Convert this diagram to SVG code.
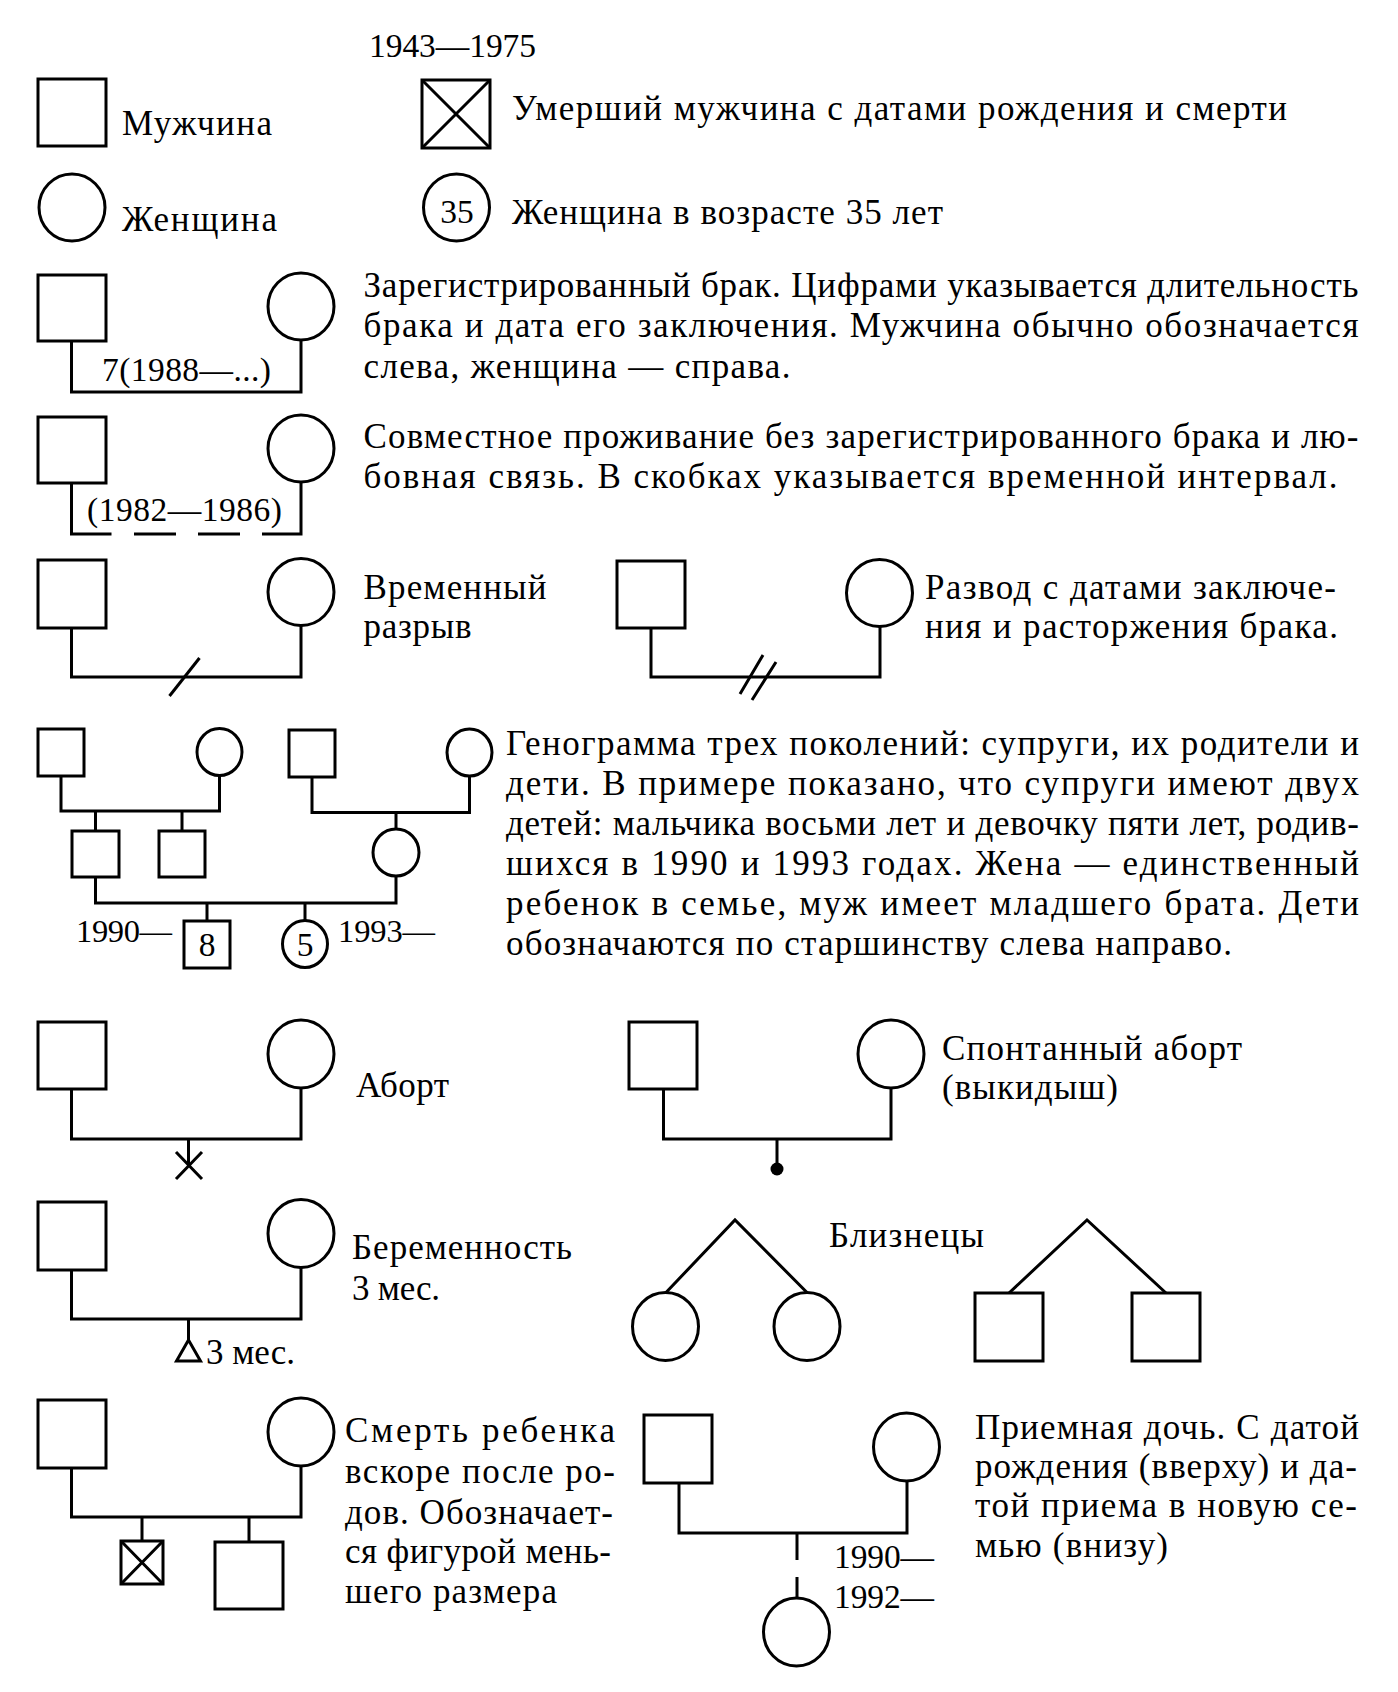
<svg xmlns="http://www.w3.org/2000/svg" width="1398" height="1692" viewBox="0 0 1398 1692">
<style>
.n{fill:#fff;stroke:#000;stroke-width:3}
.c{fill:none;stroke:#000;stroke-width:3}
.t{font-family:"Liberation Serif","Times New Roman",serif;font-size:35px;fill:#000}
.d{font-family:"Liberation Serif","Times New Roman",serif;font-size:33.5px;fill:#000}
.s{font-size:32.5px}
.m{text-anchor:middle}
</style>
<rect width="1398" height="1692" fill="#fff"/>

<g id="connectors">
  <path class="c" d="M71.5 341V392H301V340"/>
  <path class="c" d="M71.5 483V534H111.5M134 534H176M198 534H240M262 534H301V482"/>
  <path class="c" d="M71.5 628V677H301V626"/>
  <path class="c" d="M199.5 658L169.5 696"/>
  <path class="c" d="M651 628V677H880V627"/>
  <path class="c" d="M763 655L740 694M776 662L752 700"/>
  <path class="c" d="M61 776V811H219.5V775.5M95.5 811V831M182 811V831"/>
  <path class="c" d="M312 777V812.5H469.5V776M396 812.5V829"/>
  <path class="c" d="M95.5 877V903H396V876M207 903V921M305 903V920.5"/>
  <path class="c" d="M71.5 1089V1139H301V1088M188.5 1139V1165.5"/>
  <path class="c" d="M176 1152L202 1179M202 1152L176 1179"/>
  <path class="c" d="M663.5 1089V1139H891V1088M777 1139V1165"/>
  <path class="c" d="M71.5 1270V1319H301V1267.5M188.5 1319V1340"/>
  <path class="c" d="M666 1292.5L735 1220L807 1292.5"/>
  <path class="c" d="M1009 1293L1087 1220L1166 1293"/>
  <path class="c" d="M71.5 1468V1517H301V1466M142 1517V1541M249 1517V1542"/>
  <path class="c" d="M679 1483V1533H907V1481M797 1533V1560M797 1577V1598"/>
</g>

<g id="legend-male"><rect class="n" x="38" y="79" width="68" height="67"/><text class="t" x="122" y="134.5" textLength="150" lengthAdjust="spacing">Мужчина</text></g>
<g id="legend-deceased"><rect class="n" x="422" y="80" width="68" height="68"/><path class="c" d="M422 80L490 148M490 80L422 148"/><text class="d" x="369" y="57" textLength="167" lengthAdjust="spacing">1943—1975</text><text class="t" x="512" y="119.5" textLength="775" lengthAdjust="spacing">Умерший мужчина с датами рождения и смерти</text></g>
<g id="legend-female"><ellipse class="n" cx="72" cy="207.5" rx="33" ry="33.5"/><text class="t" x="122" y="230.5" textLength="155" lengthAdjust="spacing">Женщина</text></g>
<g id="legend-female35"><ellipse class="n" cx="456.5" cy="207.5" rx="33" ry="33.5"/><text class="d m" x="457" y="222.5">35</text><text class="t" x="512" y="223.5" textLength="431" lengthAdjust="spacing">Женщина в возрасте 35 лет</text></g>

<g id="marriage">
  <rect class="n" x="38" y="275" width="68" height="66"/>
  <ellipse class="n" cx="301" cy="306.5" rx="33" ry="33.5"/>
  <text class="d" x="102" y="381" textLength="169" lengthAdjust="spacing">7(1988—...)</text>
  <text class="t" x="363.5" y="297" textLength="995" lengthAdjust="spacing">Зарегистрированный брак. Цифрами указывается длительность</text>
  <text class="t" x="363.5" y="337" textLength="995" lengthAdjust="spacing">брака и дата его заключения. Мужчина обычно обозначается</text>
  <text class="t" x="363.5" y="377.5" textLength="427" lengthAdjust="spacing">слева, женщина — справа.</text>
</g>

<g id="cohabitation">
  <rect class="n" x="38" y="417" width="68" height="66"/>
  <ellipse class="n" cx="301" cy="448.5" rx="33" ry="33.5"/>
  <text class="d" x="87" y="520.5" textLength="195" lengthAdjust="spacing">(1982—1986)</text>
  <text class="t" x="363.5" y="448" textLength="995" lengthAdjust="spacing">Совместное проживание без зарегистрированного брака и лю-</text>
  <text class="t" x="363.5" y="487.5" textLength="974" lengthAdjust="spacing">бовная связь. В скобках указывается временной интервал.</text>
</g>

<g id="separation">
  <rect class="n" x="38" y="560" width="68" height="68"/>
  <ellipse class="n" cx="301" cy="592" rx="33" ry="33.5"/>
  <text class="t" x="363.5" y="599" textLength="183" lengthAdjust="spacing">Временный</text>
  <text class="t" x="363.5" y="638" textLength="108" lengthAdjust="spacing">разрыв</text>
</g>

<g id="divorce">
  <rect class="n" x="617" y="561" width="68" height="67"/>
  <ellipse class="n" cx="879.5" cy="593" rx="33" ry="33.5"/>
  <text class="t" x="925" y="599" textLength="411" lengthAdjust="spacing">Развод с датами заключе-</text>
  <text class="t" x="925" y="638" textLength="413" lengthAdjust="spacing">ния и расторжения брака.</text>
</g>

<g id="genogram">
  <g id="gf-left"><rect class="n" x="38" y="729" width="46" height="47"/></g>
  <g id="gm-left"><ellipse class="n" cx="219.5" cy="752" rx="22.5" ry="23.5"/></g>
  <g id="gf-right"><rect class="n" x="289" y="730" width="46" height="47"/></g>
  <g id="gm-right"><ellipse class="n" cx="469.5" cy="752.5" rx="22.5" ry="23.5"/></g>
  <g id="husband"><rect class="n" x="72" y="831" width="47" height="46"/></g>
  <g id="brother"><rect class="n" x="159" y="831" width="46" height="46"/></g>
  <g id="wife"><ellipse class="n" cx="396" cy="852.5" rx="23" ry="23.5"/></g>
  <g id="son"><rect class="n" x="184" y="921" width="46" height="47"/><text class="d m" x="207" y="956">8</text></g>
  <g id="daughter"><ellipse class="n" cx="305" cy="944" rx="22.5" ry="23.5"/><text class="d m" x="305" y="956">5</text></g>
  <text class="d s" x="76" y="942" textLength="96" lengthAdjust="spacing">1990—</text>
  <text class="d s" x="338" y="942" textLength="97" lengthAdjust="spacing">1993—</text>
  <text class="t" x="506" y="755" textLength="853" lengthAdjust="spacing">Генограмма трех поколений: супруги, их родители и</text>
  <text class="t" x="506" y="795" textLength="853" lengthAdjust="spacing">дети. В примере показано, что супруги имеют двух</text>
  <text class="t" x="506" y="835" textLength="853" lengthAdjust="spacing">детей: мальчика восьми лет и девочку пяти лет, родив-</text>
  <text class="t" x="506" y="875" textLength="853" lengthAdjust="spacing">шихся в 1990 и 1993 годах. Жена — единственный</text>
  <text class="t" x="506" y="915" textLength="853" lengthAdjust="spacing">ребенок в семье, муж имеет младшего брата. Дети</text>
  <text class="t" x="506" y="955" textLength="726" lengthAdjust="spacing">обозначаются по старшинству слева направо.</text>
</g>

<g id="abortion">
  <rect class="n" x="38" y="1022" width="68" height="67"/>
  <ellipse class="n" cx="301" cy="1054" rx="33" ry="34"/>
  <text class="t" x="356" y="1097" textLength="93" lengthAdjust="spacing">Аборт</text>
</g>

<g id="miscarriage">
  <rect class="n" x="629" y="1022" width="68" height="67"/>
  <ellipse class="n" cx="891" cy="1054" rx="33" ry="34"/>
  <circle cx="777" cy="1169" r="6.5" fill="#000"/>
  <text class="t" x="942" y="1060" textLength="300" lengthAdjust="spacing">Спонтанный аборт</text>
  <text class="t" x="942" y="1099" textLength="176" lengthAdjust="spacing">(выкидыш)</text>
</g>

<g id="pregnancy">
  <rect class="n" x="38" y="1202" width="68" height="68"/>
  <ellipse class="n" cx="301" cy="1233.5" rx="33" ry="34"/>
  <polygon class="n" points="188.5,1340 176.5,1361 200.5,1361"/>
  <text class="t" x="206" y="1364" textLength="89" lengthAdjust="spacing">3 мес.</text>
  <text class="t" x="352" y="1259" textLength="220" lengthAdjust="spacing">Беременность</text>
  <text class="t" x="352" y="1300" textLength="88" lengthAdjust="spacing">3 мес.</text>
</g>

<g id="twins">
  <ellipse class="n" cx="665.5" cy="1326.5" rx="33" ry="34"/>
  <ellipse class="n" cx="807" cy="1326.5" rx="33" ry="34"/>
  <rect class="n" x="975" y="1293" width="68" height="68"/>
  <rect class="n" x="1132" y="1293" width="68" height="68"/>
  <text class="t" x="829" y="1247" textLength="155" lengthAdjust="spacing">Близнецы</text>
</g>

<g id="child-death">
  <rect class="n" x="38" y="1400" width="68" height="68"/>
  <ellipse class="n" cx="301" cy="1432" rx="33" ry="34"/>
  <rect class="n" x="121" y="1541" width="42" height="43"/>
  <path class="c" d="M121 1541L163 1584M163 1541L121 1584"/>
  <rect class="n" x="215" y="1542" width="68" height="67"/>
  <text class="t" x="345" y="1442" textLength="270" lengthAdjust="spacing">Смерть ребенка</text>
  <text class="t" x="345" y="1483" textLength="270" lengthAdjust="spacing">вскоре после ро-</text>
  <text class="t" x="345" y="1524" textLength="268" lengthAdjust="spacing">дов. Обозначает-</text>
  <text class="t" x="345" y="1562.5" textLength="266" lengthAdjust="spacing">ся фигурой мень-</text>
  <text class="t" x="345" y="1602.5" textLength="212" lengthAdjust="spacing">шего размера</text>
</g>

<g id="adoption">
  <rect class="n" x="644" y="1415" width="68" height="68"/>
  <ellipse class="n" cx="906.5" cy="1447" rx="33" ry="34"/>
  <ellipse class="n" cx="796.5" cy="1632" rx="33" ry="34"/>
  <text class="d" x="834" y="1568" textLength="100" lengthAdjust="spacing">1990—</text>
  <text class="d" x="834" y="1608" textLength="100" lengthAdjust="spacing">1992—</text>
  <text class="t" x="975" y="1438.5" textLength="384" lengthAdjust="spacing">Приемная дочь. С датой</text>
  <text class="t" x="975" y="1477.5" textLength="382" lengthAdjust="spacing">рождения (вверху) и да-</text>
  <text class="t" x="975" y="1517" textLength="382" lengthAdjust="spacing">той приема в новую се-</text>
  <text class="t" x="975" y="1556.5" textLength="193" lengthAdjust="spacing">мью (внизу)</text>
</g>
</svg>
